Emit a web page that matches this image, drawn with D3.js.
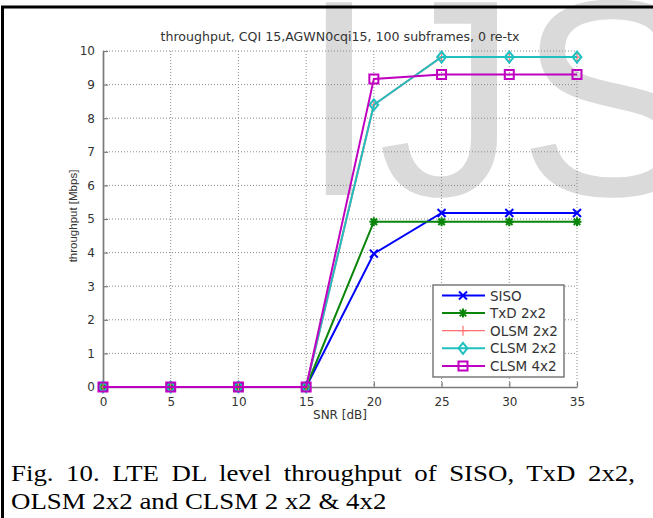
<!DOCTYPE html>
<html>
<head>
<meta charset="utf-8">
<script src="https://cdn.jsdelivr.net/npm/d3@7"></script>
<style>
body { margin: 0; background: #fff; }
svg { display: block; }
</style>
</head>
<body>
<svg></svg>
<script>
// data
let snr = [0, 5, 10, 15, 20, 25, 30, 35]
let siso = [0, 0, 0, 0, 3.97, 5.18, 5.18, 5.18]
let txd = [0, 0, 0, 0, 4.92, 4.92, 4.92, 4.92]
let olsm = [0, 0, 0, 0, 8.4, 9.82, 9.82, 9.82]
let clsm22 = [0, 0, 0, 0, 8.4, 9.82, 9.82, 9.82]
let clsm42 = [0, 0, 0, 0, 9.17, 9.3, 9.3, 9.3]
let names = ['SISO', 'TxD 2x2', 'OLSM 2x2', 'CLSM 2x2', 'CLSM 4x2']
let xTicks = [0, 5, 10, 15, 20, 25, 30, 35]
let yTicks = [0, 1, 2, 3, 4, 5, 6, 7, 8, 9, 10]

let w = 653
let h = 518
let pLeft = 103, pRight = 577, pTop = 51, pBottom = 387

let series = [
    {name: names[0], values: siso, color: '#0000ff', marker: 'x'},
    {name: names[1], values: txd, color: '#0a850a', marker: 'star'},
    {name: names[2], values: olsm, color: '#ff7070', marker: 'plus'},
    {name: names[3], values: clsm22, color: '#20c0c0', marker: 'diamond'},
    {name: names[4], values: clsm42, color: '#c000c0', marker: 'square'}
]

let svg = d3.select('svg').attr('width', w).attr('height', h)

// watermark behind everything
svg.append('text')
   .attr('x', 300)
   .attr('y', 195)
   .attr('font-family', 'Liberation Sans, Arial, sans-serif')
   .attr('font-size', 280)
   .attr('fill', '#dadada')
   .text('IJS')

// frame
svg.append('path')
   .attr('d', 'M2.5,' + h + ' V7 H' + w)
   .attr('fill', 'none')
   .attr('stroke', '#000')
   .attr('stroke-width', 3)

let x = d3.scaleLinear().domain([0, 35]).range([pLeft, pRight])
let y = d3.scaleLinear().domain([0, 10]).range([pBottom, pTop])

let font = 'DejaVu Sans, Verdana, sans-serif'

// grid
let grid = svg.append('g')
grid.selectAll('.gx')
    .data(xTicks.slice(1))
    .enter()
    .append('line')
    .attr('x1', d => x(d)).attr('x2', d => x(d))
    .attr('y1', pTop).attr('y2', pBottom)
grid.selectAll('.gy')
    .data(yTicks.slice(1))
    .enter()
    .append('line')
    .attr('x1', pLeft).attr('x2', pRight)
    .attr('y1', d => y(d)).attr('y2', d => y(d))
grid.selectAll('line')
    .attr('stroke', '#8c8c8c')
    .attr('stroke-width', 1)
    .attr('stroke-dasharray', '1,2')

// axes
let xAxis = d3.axisBottom(x).tickValues(xTicks).tickSizeInner(-5).tickSizeOuter(0).tickPadding(10)
let yAxis = d3.axisLeft(y).tickValues(yTicks).tickSizeInner(-5).tickSizeOuter(0).tickPadding(8)

let gx = svg.append('g')
    .attr('transform', 'translate(0,' + pBottom + ')')
    .call(xAxis)
let gy = svg.append('g')
    .attr('transform', 'translate(' + pLeft + ',0)')
    .call(yAxis)
;[gx, gy].forEach(g => {
    g.select('.domain').attr('stroke', '#7a7a7a').attr('stroke-width', 1.7)
    g.selectAll('.tick line').attr('stroke', '#7a7a7a').attr('stroke-width', 1.2)
    g.selectAll('text').attr('font-family', font).attr('font-size', 12).attr('fill', '#333')
})

// titles
svg.append('text')
   .attr('x', 340).attr('y', 41)
   .attr('text-anchor', 'middle')
   .attr('font-family', font).attr('font-size', 12).attr('fill', '#333')
   .attr('textLength', 359).attr('lengthAdjust', 'spacingAndGlyphs')
   .text('throughput, CQI 15,AGWN0cqi15, 100 subframes, 0 re-tx')
svg.append('text')
   .attr('x', 340).attr('y', 419)
   .attr('text-anchor', 'middle')
   .attr('font-family', font).attr('font-size', 12).attr('fill', '#333')
   .text('SNR [dB]')
svg.append('text')
   .attr('transform', 'translate(77,216) rotate(-90)')
   .attr('text-anchor', 'middle')
   .attr('font-family', 'Liberation Sans, Arial, sans-serif').attr('font-size', 11.5).attr('fill', '#333')
   .text('throughput [Mbps]')

let markerPath = (type, s) => {
    if (type == 'x') return `M${-s},${-s}L${s},${s}M${-s},${s}L${s},${-s}`
    if (type == 'plus') return `M${-s},0H${s}M0,${-s}V${s}`
    if (type == 'star') {
        let d = s * 0.72
        return `M${-s},0H${s}M0,${-s}V${s}M${-d},${-d}L${d},${d}M${-d},${d}L${d},${-d}`
    }
    if (type == 'diamond') return `M0,${-s}L${s * 0.8},0L0,${s}L${-s * 0.8},0Z`
    if (type == 'square') return `M${-s},${-s}H${s}V${s}H${-s}Z`
}
let markerSize = {x: 4, plus: 5, star: 4.5, diamond: 5.5, square: 4.5}

let line = d3.line().x(d => x(d[0])).y(d => y(d[1]))

let plot = svg.append('g')
series.forEach(s => {
    let pts = snr.map((v, i) => [v, s.values[i]])
    plot.append('path')
        .datum(pts)
        .attr('d', line)
        .attr('fill', 'none')
        .attr('stroke', s.color)
        .attr('stroke-width', 2)
    plot.selectAll('.m' + s.marker)
        .data(pts)
        .enter()
        .append('path')
        .attr('transform', d => 'translate(' + x(d[0]) + ',' + y(d[1]) + ')')
        .attr('d', markerPath(s.marker, markerSize[s.marker]))
        .attr('fill', 'none')
        .attr('stroke', s.color)
        .attr('stroke-width', s.marker == 'plus' ? 1.2 : 2)
})

// legend
let lg = svg.append('g').attr('transform', 'translate(433,285)')
lg.append('rect')
  .attr('width', 131).attr('height', 92)
  .attr('fill', '#fff')
  .attr('stroke', '#666').attr('stroke-width', 1.3)
series.forEach((s, i) => {
    let yy = 10.5 + i * 17.6
    lg.append('line')
      .attr('x1', 9).attr('x2', 52).attr('y1', yy).attr('y2', yy)
      .attr('stroke', s.color).attr('stroke-width', s.marker == 'plus' ? 1.2 : 2)
    lg.append('path')
      .attr('transform', 'translate(30,' + yy + ')')
      .attr('d', markerPath(s.marker, markerSize[s.marker]))
      .attr('fill', 'none')
      .attr('stroke', s.color)
      .attr('stroke-width', s.marker == 'plus' ? 1.2 : 2)
    lg.append('text')
      .attr('x', 57).attr('y', yy + 5)
      .attr('font-family', font).attr('font-size', 13.5).attr('fill', '#333')
      .text(s.name)
})

// caption, first line justified
let serif = 'Liberation Serif, Times New Roman, serif'
let cap = svg.append('g').attr('transform', 'translate(11,0) scale(1.12,1)')
let cap1 = cap.append('text')
   .attr('x', 0).attr('y', 481)
   .attr('font-family', serif).attr('font-size', 24).attr('fill', '#000')
   .text('Fig. 10. LTE DL level throughput of SISO, TxD 2x2,')
let natural = cap1.node().getComputedTextLength()
let gaps = cap1.text().split(' ').length - 1
cap1.attr('word-spacing', ((624 / 1.12) - natural) / gaps)
cap.append('text')
   .attr('x', 0).attr('y', 509)
   .attr('font-family', serif).attr('font-size', 24).attr('fill', '#000')
   .text('OLSM 2x2 and CLSM 2 x2 & 4x2')
</script>
</body>
</html>
